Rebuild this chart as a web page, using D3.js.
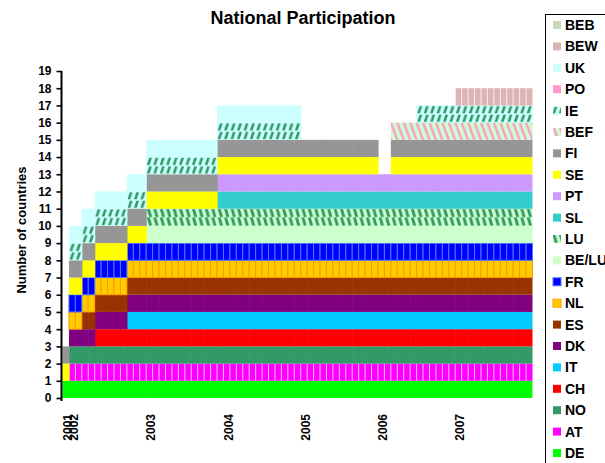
<!DOCTYPE html>
<html><head><meta charset="utf-8">
<script src="https://cdn.jsdelivr.net/npm/d3@7"></script>
<style>body{margin:0;background:#fff} svg{display:block}</style>
</head><body>
<svg id="chart" width="605" height="463"></svg>
<script>
// ---------- DATA ----------
const years = ["2001","2002","2003","2004","2005","2006","2007"];
const periodsPerYear = [1,12,12,12,12,12,12];
const yTicks = [0,1,2,3,4,5,6,7,8,9,10,11,12,13,14,15,16,17,18,19];

// participation flags (1 = participating) per period, grouped by year: 2001 | 2002 | 2003 | 2004 | 2005 | 2006 | 2007
const DE   = "1 111111111111 111111111111 111111111111 111111111111 111111111111 111111111111";
const AT   = "0 111111111111 111111111111 111111111111 111111111111 111111111111 111111111111";
const NO   = "0 111111111111 111111111111 111111111111 111111111111 111111111111 111111111111";
const CH   = "0 000011111111 111111111111 111111111111 111111111111 111111111111 111111111111";
const IT   = "0 000000000111 111111111111 111111111111 111111111111 111111111111 111111111111";
const DK   = "0 111111111111 111111111111 111111111111 111111111111 111111111111 111111111111";
const ES   = "0 001111111111 111111111111 111111111111 111111111111 111111111111 111111111111";
const NL   = "0 111111111111 111111111111 111111111111 111111111111 111111111111 111111111111";
const FR   = "0 111111111111 111111111111 111111111111 111111111111 111111111111 111111111111";
const BELU = "0 000000000000 111111111111 111111111111 111111111111 111111111111 111111111111";
const LU   = "0 000000000000 111111111111 111111111111 111111111111 111111111111 111111111111";
const SL   = "0 000000000000 000000000001 111111111111 111111111111 111111111111 111111111111";
const PT   = "0 000000000000 000000000001 111111111111 111111111111 111111111111 111111111111";
const SE   = "1 111111111111 111111111111 111111111111 111111111111 001111111111 111111111111";
const FI   = "1 111111111111 111111111111 111111111111 111111111111 001111111111 111111111111";
const BEF  = "0 000000000000 000000000000 000000000000 000000000000 001111111111 111111111111";
const IE   = "0 111111111111 111111111111 111111111111 000000000000 000000111111 111111111111";
const PO   = "0 000000000000 000000000000 000000000000 000000000000 000000000000 000000000000";
const UK   = "0 111111111111 111111111111 111111111111 000000000000 000000000000 000000000000";
const BEW  = "0 000000000000 000000000000 000000000000 000000000000 000000000000 111111111111";
const BEB  = "0 000000000000 000000000000 000000000000 000000000000 000000000000 000000000000";

const seriesNames = ["DE","AT","NO","CH","IT","DK","ES","NL","FR","BE/LU","LU","SL","PT","SE","FI","BEF","IE","PO","UK","BEW","BEB"];
const seriesFlags = [DE,AT,NO,CH,IT,DK,ES,NL,FR,BELU,LU,SL,PT,SE,FI,BEF,IE,PO,UK,BEW,BEB];

// ---------- STYLES ----------
const fills = {
  "DE":"#00FF00","AT":"#FF00FF","NO":"#339966","CH":"#FF0000","IT":"#00CCFF","DK":"#800080",
  "ES":"#993300","NL":"#FFCC00","FR":"#0000FF","BE/LU":"#CCFFCC","LU":"url(#pLU)","SL":"#33CCCC",
  "PT":"#CC99FF","SE":"#FFFF00","FI":"#969696","BEF":"url(#pBEF)","IE":"url(#pIE)","PO":"#FF99CC",
  "UK":"#CCFFFF","BEW":"#DDB4B4","BEB":"#C9D8B6"
};
const borders = {"NL":"#FF9900","FR":"#4A78FF"};
const vlines = {"AT":"#FFD6FF","BEW":"#FFF4F4"};

// ---------- BUILD ----------
const cats = [], tickLabel = {};
years.forEach((yr,i)=>{ for(let j=0;j<periodsPerYear[i];j++){ const k=yr+"-"+j; cats.push(k); tickLabel[k]= j===0?yr:""; } });
const flagArrays = seriesFlags.map(s=>s.replace(/ /g,"").split("").map(Number));
const rows = cats.map((c,i)=>{ const r={cat:c}; seriesNames.forEach((n,si)=>r[n]=flagArrays[si][i]); return r; });

const svg = d3.select("#chart");
const FONT = "'Liberation Sans', Arial, sans-serif";
const x = d3.scaleBand().domain(cats).range([62.5,532.5]).padding(0);
const y = d3.scaleLinear().domain([0,19]).range([398,71]);
const bw = x.bandwidth();
const lastCat = cats[cats.length-1];

const defs = svg.append("defs");
function slantPattern(id,bg,fg,pts,ph){
  const p = defs.append("pattern").attr("id",id).attr("patternUnits","userSpaceOnUse")
    .attr("x",62.5).attr("y",y(19)).attr("width",bw).attr("height",ph);
  p.append("rect").attr("width",bw).attr("height",ph).attr("fill",bg);
  p.append("polygon").attr("points",pts.map(q=>q.join(",")).join(" ")).attr("fill",fg);
  return p;
}
const half = (y(0)-y(1))/2;
slantPattern("pIE","#CCFFFF","#339966",[[0.6,half-0.6],[3.3,half-0.6],[5.7,0.6],[3.0,0.6]],half);
slantPattern("pLU","#CCFFCC","#339966",[[0.6,0.3],[3.6,0.3],[6.0,half-0.3],[3.0,half-0.3]],half);
(function(){
  const ph = y(0)-y(1);
  const p = defs.append("pattern").attr("id","pBEF").attr("patternUnits","userSpaceOnUse")
    .attr("x",62.5).attr("y",y(19)).attr("width",bw).attr("height",ph);
  p.append("rect").attr("width",bw).attr("height",ph).attr("fill","#CCFFCC");
  [[-bw,0],[0,0],[bw,0]].forEach(o=>p.append("line").attr("x1",o[0]).attr("y1",0).attr("x2",o[0]+bw).attr("y2",ph)
    .attr("stroke","#FF99CC").attr("stroke-width",2.4));
})();

const stack = d3.stack().keys(seriesNames);
const layers = stack(rows);

const g = svg.append("g");
layers.forEach(layer=>{
  const name = layer.key;
  const segs = layer.filter(d=>d[1]-d[0]>0);
  const bordered = !!borders[name];
  const ext = d => (bordered || d.data.cat===lastCat) ? 0 : 0.6;
  const sel = g.selectAll(null).data(segs).enter().append("rect")
    .attr("x",d=>x(d.data.cat)).attr("y",d=>y(d[1]))
    .attr("width",d=>bw+ext(d)).attr("height",d=>y(d[0])-y(d[1]))
    .attr("fill",fills[name]);
  if(bordered) sel.attr("stroke",borders[name]).attr("stroke-width",1);
  if(vlines[name]){
    g.selectAll(null).data(segs).enter().append("line")
      .attr("x1",d=>x(d.data.cat)).attr("x2",d=>x(d.data.cat))
      .attr("y1",d=>y(d[1])).attr("y2",d=>y(d[0]))
      .attr("stroke",vlines[name]).attr("stroke-width",0.9);
  }
});

// Y axis
const yAxis = d3.axisLeft(y).tickValues(yTicks).tickSize(5).tickSizeOuter(0).tickPadding(5);
const ya = svg.append("g").attr("transform","translate(61.5,0)").call(yAxis);
ya.select(".domain").remove();
ya.append("line").attr("x1",0).attr("x2",0).attr("y1",y(19)).attr("y2",y(0)+3).attr("stroke","#000").attr("stroke-width",2);
ya.selectAll(".tick line").attr("stroke","#000").attr("stroke-width",1.6);
ya.selectAll(".tick text").attr("font-family",FONT).attr("font-size",12).attr("font-weight","bold").attr("fill","#000");

// X axis labels
const xAxis = d3.axisBottom(x).tickSize(0).tickFormat(d=>tickLabel[d]);
const xa = svg.append("g").attr("transform",`translate(0,${y(0)})`).call(xAxis);
xa.select(".domain").remove();
xa.selectAll(".tick").filter(d=>tickLabel[d]==="").remove();
xa.selectAll(".tick text")
  .attr("font-family",FONT).attr("font-size",12).attr("font-weight","bold").attr("fill","#000")
  .attr("text-anchor","end").attr("transform","translate(1.5,16) rotate(-90)")
  .attr("x",0).attr("y",0).attr("dy","0.36em");

// Title
svg.append("text").attr("x",303).attr("y",24).attr("text-anchor","middle")
  .attr("font-family",FONT).attr("font-size",18).attr("font-weight","bold").text("National Participation");

// Y title
svg.append("text").attr("transform","translate(26,230) rotate(-90)").attr("text-anchor","middle")
  .attr("font-family",FONT).attr("font-size",13).attr("font-weight","bold").text("Number of countries");

// Legend
const lg = svg.append("g");
lg.append("rect").attr("x",545.5).attr("y",14.5).attr("width",80).attr("height",470).attr("fill","#fff").attr("stroke","#000").attr("stroke-width",1);
const legendItems = seriesNames.slice().reverse();
legendItems.forEach((name,i)=>{
  const cy = 25 + i*21.4;
  const r = lg.append("rect").attr("x",553).attr("y",cy-4).attr("width",8).attr("height",8).attr("fill",fills[name]);
  if(borders[name]) r.attr("stroke",borders[name]).attr("stroke-width",1);
  lg.append("text").attr("x",565).attr("y",cy).attr("dy","0.36em")
    .attr("font-family",FONT).attr("font-size",14).attr("font-weight","bold").text(name);
});
</script>
</body></html>
